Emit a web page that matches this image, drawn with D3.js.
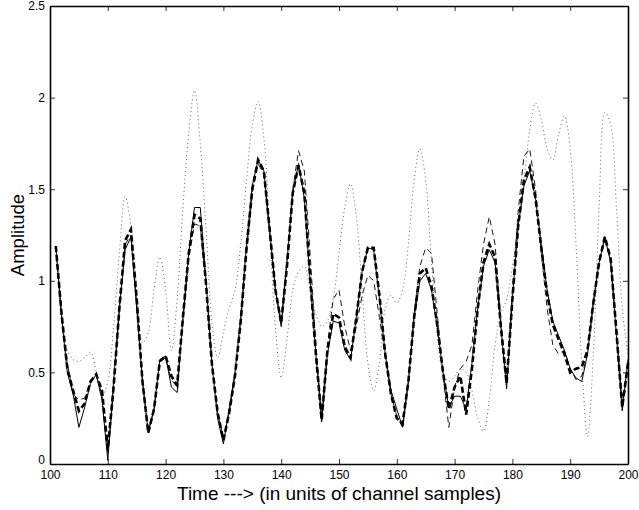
<!DOCTYPE html>
<html>
<head>
<meta charset="utf-8">
<script src="https://cdn.jsdelivr.net/npm/d3@7"></script>
<style>
body { margin: 0; background: #fff; }
text { font-family: "Liberation Sans", Arial, sans-serif; }
</style>
</head>
<body>
<svg width="639" height="510"></svg>
<script>
let width = 639, height = 510;
let margin = {top: 6, right: 11, bottom: 46, left: 50};

let xTicks = [100, 110, 120, 130, 140, 150, 160, 170, 180, 190, 200];
let yTicks = [0, 0.5, 1, 1.5, 2, 2.5];
let startSample = 101;

// channel output (solid)
let solid = [1.19, 0.80, 0.50, 0.38, 0.20, 0.31, 0.44, 0.49, 0.35, 0.02,
  0.45, 0.85, 1.17, 1.24, 0.85, 0.45, 0.17, 0.30, 0.57, 0.59,
  0.42, 0.39, 0.80, 1.15, 1.40, 1.40, 1.00, 0.55, 0.25, 0.11,
  0.30, 0.50, 0.80, 1.20, 1.52, 1.66, 1.60, 1.28, 0.95, 0.75,
  1.10, 1.48, 1.64, 1.45, 1.00, 0.60, 0.23, 0.60, 0.78, 0.77,
  0.62, 0.57, 0.80, 1.05, 1.18, 1.17, 0.90, 0.60, 0.40, 0.30,
  0.20, 0.45, 0.80, 1.00, 1.04, 0.95, 0.75, 0.50, 0.31, 0.37,
  0.37, 0.30, 0.55, 0.85, 1.08, 1.17, 1.10, 0.75, 0.41, 0.90,
  1.30, 1.52, 1.60, 1.45, 1.20, 0.95, 0.78, 0.70, 0.62, 0.52,
  0.47, 0.45, 0.60, 0.88, 1.10, 1.24, 1.10, 0.70, 0.29, 0.57];

// thick dashed
let thick = [1.19, 0.82, 0.52, 0.40, 0.29, 0.33, 0.45, 0.49, 0.40, 0.08,
  0.42, 0.85, 1.22, 1.28, 0.90, 0.45, 0.17, 0.30, 0.56, 0.59,
  0.48, 0.43, 0.80, 1.15, 1.36, 1.34, 0.98, 0.55, 0.28, 0.13,
  0.28, 0.48, 0.78, 1.18, 1.50, 1.66, 1.60, 1.28, 0.95, 0.77,
  1.08, 1.48, 1.63, 1.48, 1.02, 0.60, 0.24, 0.62, 0.82, 0.80,
  0.64, 0.58, 0.80, 1.05, 1.18, 1.18, 0.92, 0.60, 0.38, 0.25,
  0.22, 0.45, 0.80, 1.04, 1.07, 0.97, 0.76, 0.50, 0.30, 0.42,
  0.48, 0.27, 0.52, 0.85, 1.10, 1.20, 1.13, 0.75, 0.44, 0.90,
  1.30, 1.55, 1.62, 1.45, 1.18, 0.93, 0.76, 0.68, 0.60, 0.50,
  0.52, 0.53, 0.62, 0.88, 1.10, 1.24, 1.12, 0.72, 0.31, 0.55];

// thin dashed
let dashed = [1.19, 0.82, 0.55, 0.38, 0.35, 0.36, 0.45, 0.48, 0.38, 0.05,
  0.40, 0.85, 1.20, 1.25, 0.88, 0.45, 0.18, 0.30, 0.56, 0.58,
  0.46, 0.42, 0.78, 1.12, 1.31, 1.30, 0.98, 0.56, 0.28, 0.14,
  0.28, 0.48, 0.78, 1.15, 1.48, 1.64, 1.58, 1.26, 0.95, 0.78,
  1.12, 1.50, 1.71, 1.60, 1.15, 0.65, 0.25, 0.65, 0.90, 0.95,
  0.75, 0.62, 0.75, 0.92, 1.03, 1.00, 0.80, 0.58, 0.38, 0.26,
  0.20, 0.45, 0.82, 1.08, 1.18, 1.15, 0.82, 0.48, 0.20, 0.42,
  0.52, 0.56, 0.65, 0.95, 1.20, 1.35, 1.20, 0.78, 0.45, 0.95,
  1.38, 1.68, 1.72, 1.50, 1.15, 0.85, 0.65, 0.60, 0.62, 0.52,
  0.46, 0.48, 0.60, 0.88, 1.12, 1.22, 1.12, 0.75, 0.33, 0.52];

// dotted
let dotted = [1.19, 0.82, 0.62, 0.57, 0.56, 0.58, 0.61, 0.50, 0.37, 0.45,
  0.75, 1.15, 1.46, 1.30, 0.95, 0.66, 0.72, 0.95, 1.13, 0.95,
  0.62, 0.90, 1.40, 1.80, 2.04, 1.75, 1.28, 0.78, 0.58, 0.72,
  0.85, 0.95, 1.20, 1.55, 1.85, 1.98, 1.78, 1.28, 0.75, 0.47,
  0.68, 0.95, 1.05, 1.08, 0.95, 0.82, 0.75, 0.78, 0.90, 1.15,
  1.40, 1.53, 1.35, 0.95, 0.55, 0.40, 0.55, 0.85, 0.92, 0.88,
  0.95, 1.20, 1.55, 1.72, 1.55, 1.10, 0.70, 0.50, 0.45, 0.48,
  0.52, 0.50, 0.40, 0.25, 0.18, 0.35, 0.65, 0.82, 0.90, 1.08,
  1.29, 1.55, 1.82, 1.97, 1.88, 1.72, 1.66, 1.80, 1.90, 1.72,
  1.20, 0.55, 0.15, 0.60, 1.40, 1.92, 1.85, 1.40, 0.85, 0.60];

let svg = d3.select('svg');
let x = d3.scaleLinear().domain([100, 200]).range([margin.left, width - margin.right]);
let y = d3.scaleLinear().domain([0, 2.5]).range([height - margin.bottom, margin.top]);

function drawAxes() {
    let tick = 5;
    let bottom = svg.append('g')
    .attr('transform', 'translate(0,' + y(0) + ')')
    .call(d3.axisBottom(x).tickValues(xTicks).tickSizeInner(-tick).tickSizeOuter(0).tickPadding(6).tickFormat(d3.format('d')));
    let top = svg.append('g')
    .attr('transform', 'translate(0,' + y(2.5) + ')')
    .call(d3.axisTop(x).tickValues(xTicks).tickSizeInner(-tick).tickSizeOuter(0).tickFormat(''));
    let left = svg.append('g')
    .attr('transform', 'translate(' + x(100) + ',0)')
    .call(d3.axisLeft(y).tickValues(yTicks).tickSizeInner(-tick).tickSizeOuter(0).tickPadding(5).tickFormat(d3.format('')));
    let right = svg.append('g')
    .attr('transform', 'translate(' + x(200) + ',0)')
    .call(d3.axisRight(y).tickValues(yTicks).tickSizeInner(-tick).tickSizeOuter(0).tickFormat(''));

    [bottom, top, left, right].forEach(function(g) {
        g.select('.domain').attr('stroke', '#000').attr('stroke-width', 1.6);
        g.selectAll('.tick line').attr('stroke', '#000').attr('stroke-width', 0.8);
        g.selectAll('.tick text').attr('fill', '#000').style('font-size', '12px');
    });
    // the zero label sits a little above the x labels
    left.selectAll('.tick text').filter(function(d) { return d === 0; }).attr('dy', '-0.05em');

    svg.append('text')
    .attr('x', (x(100) + x(200)) / 2)
    .attr('y', 500)
    .attr('text-anchor', 'middle')
    .style('font-size', '19px')
    .text('Time ---> (in units of channel samples)');

    svg.append('text')
    .attr('transform', 'translate(24,' + ((y(0) + y(2.5)) / 2) + ') rotate(-90)')
    .attr('text-anchor', 'middle')
    .style('font-size', '18.5px')
    .text('Amplitude');
}

function drawSeries(values, opts) {
    let line = d3.line()
    .x(function(d, i) { return x(startSample + i); })
    .y(function(d) { return y(d); })
    .curve(opts.curve || d3.curveLinear);

    svg.append('path')
    .datum(values)
    .attr('d', line)
    .attr('fill', 'none')
    .attr('stroke', opts.color)
    .attr('stroke-width', opts.width)
    .attr('stroke-dasharray', opts.dash || null)
    .attr('stroke-linecap', opts.cap || 'butt');
}

drawSeries(dotted, {color: '#666', width: 1, dash: '1,3', curve: d3.curveCatmullRom});
drawSeries(dashed, {color: '#000', width: 0.9, dash: '6,4'});
drawSeries(solid, {color: '#000', width: 1});
drawSeries(thick, {color: '#000', width: 2.6, dash: '6,3'});
drawAxes();
</script>
</body>
</html>
